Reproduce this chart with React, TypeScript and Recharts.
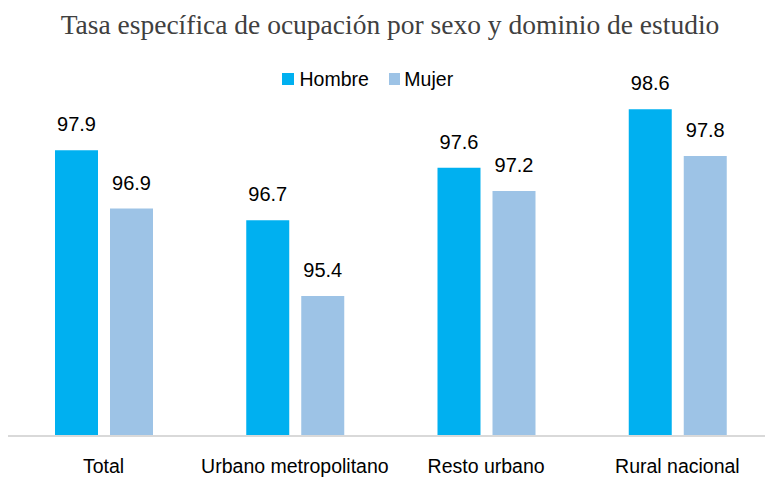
import { BarChart, Bar, XAxis, YAxis, LabelList, Legend } from "recharts"

const categories = ["Total", "Urbano metropolitano", "Resto urbano", "Rural nacional"]
const hombre = [97.9, 96.7, 97.6, 98.6]
const mujer = [96.9, 95.4, 97.2, 97.8]
const seriesNames = ["Hombre", "Mujer"]
const seriesColors = ["#00b0f0", "#9dc3e6"]

const data = categories.map((name, i) => ({ name, hombre: hombre[i], mujer: mujer[i] }))

const font = "'Liberation Sans', Arial, sans-serif"

// legend drawn by hand so the spacing matches the original
function LegendBox() {
  return (
    <div style={{ display: "flex", alignItems: "center", fontFamily: font, fontSize: 19.5, color: "#000", lineHeight: "22px" }}>
      {seriesNames.map((n, i) => (
        <div key={n} style={{ display: "flex", alignItems: "center", marginRight: 20 }}>
          <div style={{ width: 11.5, height: 11.5, background: seriesColors[i], marginRight: i === 0 ? 6 : 4 }} />
          <span>{n}</span>
        </div>
      ))}
    </div>
  )
}

export default function App() {
  return (
    <div style={{ position: "fixed", left: 0, top: 0, width: 765, height: 478, overflow: "hidden", background: "#fff" }}>
      <div
        style={{
          position: "absolute",
          top: 9,
          left: 0,
          width: 780,
          textAlign: "center",
          fontFamily: "'Liberation Serif', 'Times New Roman', serif",
          fontSize: 27.5,
          color: "#404040",
        }}
      >
        Tasa específica de ocupación por sexo y dominio de estudio
      </div>
      <BarChart
        width={773}
        height={478}
        data={data}
        margin={{ top: 86, right: 0, bottom: 0, left: 8 }}
        barGap={12}
        barCategoryGap={47}
      >
        <XAxis
          dataKey="name"
          height={42}
          axisLine={{ stroke: "#d9d9d9", strokeWidth: 2 }}
          tickLine={false}
          tickMargin={17}
          tick={{ fill: "#000", fontSize: 19.5, fontFamily: font }}
          interval={0}
        />
        <YAxis hide domain={[93, 99]} allowDataOverflow />
        <Legend
          verticalAlign="middle"
          align="center"
          wrapperStyle={{ top: 68, left: 282, width: 300 }}
          content={() => <LegendBox />}
        />
        <Bar dataKey="hombre" name={seriesNames[0]} fill={seriesColors[0]} isAnimationActive={false}>
          <LabelList dataKey="hombre" position="top" offset={19} fill="#000" fontSize={20} fontFamily={font} />
        </Bar>
        <Bar dataKey="mujer" name={seriesNames[1]} fill={seriesColors[1]} isAnimationActive={false}>
          <LabelList dataKey="mujer" position="top" offset={19} fill="#000" fontSize={20} fontFamily={font} />
        </Bar>
      </BarChart>
    </div>
  )
}
